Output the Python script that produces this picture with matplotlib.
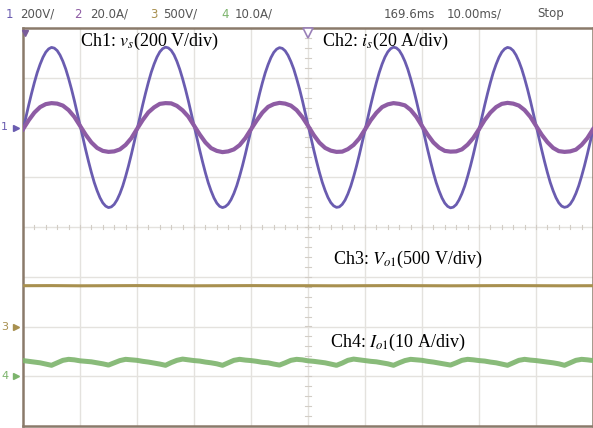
import numpy as np
import matplotlib
matplotlib.use("Agg")
import matplotlib.pyplot as plt

# time base: 10 ms/div, 10 divisions
t = np.arange(-50, 51, 1)        # 1 ms samples
t_fine = np.arange(-50, 50.5, 0.5)  # 0.5 ms samples
t3 = np.arange(-50, 51, 5)

# Ch1 grid voltage vs (V), 0.5 ms samples
vs = [-10, 40, 90, 137, 181, 221, 254, 282, 303, 316, 322, 319, 309, 291, 266, 235, 197, 155, 109, 60,
      10, -40, -90, -137, -181, -221, -254, -282, -303, -316, -322, -319, -309, -291, -266, -235, -197, -155, -109, -60,
      -9, 41, 91, 138, 182, 222, 255, 283, 304, 317, 323, 320, 310, 292, 266, 234, 196, 154, 108, 59,
      9, -41, -91, -138, -182, -222, -255, -283, -304, -317, -322, -318, -308, -290, -265, -234, -196, -154, -108, -59,
      -10, 40, 89, 136, 180, 220, 253, 281, 302, 315, 321, 318, 308, 290, 265, 235, 197, 156, 110, 61,
      11, -39, -89, -136, -180, -220, -253, -281, -302, -315, -321, -319, -309, -292, -267, -236, -198, -156, -110, -61,
      -11, 39, 90, 137, 181, 221, 255, 283, 304, 317, 323, 320, 310, 291, 266, 235, 197, 155, 109, 60,
      10, -40, -90, -137, -182, -222, -255, -283, -304, -317, -323, -320, -310, -291, -266, -235, -197, -155, -109, -60,
      -10, 40, 90, 137, 181, 221, 254, 282, 303, 316, 322, 319, 309, 291, 266, 235, 197, 155, 109, 60,
      10, -40, -90, -137, -181, -221, -254, -282, -303, -316, -321, -318, -308, -290, -265, -234, -196, -154, -108, -59,
      -10]

# Ch2 grid current is (A), 1 ms samples
i_s = [-0.7, 2.9, 6.0, 8.2, 9.4, 9.8, 9.6, 8.8, 7.0, 4.3, 0.7, -2.9, -6.0, -8.2, -9.4, -9.8, -9.6, -8.8, -7.0, -4.3,
       -0.6, 3.0, 6.1, 8.1, 9.5, 9.8, 9.7, 8.7, 6.9, 4.4, 0.8, -2.8, -6.0, -8.3, -9.4, -9.9, -9.6, -8.8, -7.1, -4.3,
       -0.7, 2.8, 6.0, 8.3, 9.4, 9.9, 9.6, 8.8, 7.0, 4.2, 0.7, -3.0, -6.1, -8.2, -9.3, -9.8, -9.7, -8.7, -7.0, -4.4,
       -0.8, 2.9, 5.9, 8.2, 9.3, 9.8, 9.5, 8.9, 7.1, 4.3, 0.6, -2.9, -6.0, -8.1, -9.4, -9.7, -9.6, -8.8, -6.9, -4.2,
       -0.7, 3.0, 6.0, 8.2, 9.5, 9.9, 9.6, 8.8, 7.0, 4.3, 0.7, -2.9, -5.9, -8.2, -9.5, -9.8, -9.6, -8.9, -7.0, -4.3,
       -0.7]

# Ch3 output voltage Vo1 (V), every 5 ms
vo1 = [410, 411, 409, 410, 411, 410, 409, 410, 411, 410, 410,
       409, 410, 411, 410, 409, 410, 411, 410, 409, 410]

# Ch4 output current Io1 (A), 1 ms samples
io1 = [3.15, 3.0, 2.85, 2.7, 2.45, 2.2, 2.7, 3.2, 3.4, 3.3,
       3.1, 3.0, 2.9, 2.7, 2.5, 2.25, 2.7, 3.15, 3.4, 3.3,
       3.2, 3.0, 2.85, 2.65, 2.45, 2.2, 2.75, 3.2, 3.45, 3.3,
       3.15, 3.05, 2.85, 2.7, 2.5, 2.2, 2.7, 3.2, 3.4, 3.25,
       3.15, 3.0, 2.8, 2.7, 2.45, 2.25, 2.7, 3.2, 3.4, 3.3,
       3.1, 3.0, 2.85, 2.7, 2.45, 2.2, 2.65, 3.2, 3.45, 3.3,
       3.15, 3.0, 2.9, 2.7, 2.5, 2.2, 2.7, 3.15, 3.4, 3.3,
       3.2, 3.0, 2.85, 2.65, 2.45, 2.25, 2.7, 3.2, 3.4, 3.3,
       3.15, 3.05, 2.85, 2.7, 2.45, 2.2, 2.7, 3.2, 3.4, 3.25,
       3.15, 3.0, 2.85, 2.7, 2.5, 2.2, 2.7, 3.2, 3.4, 3.3,
       3.15]

# channel settings: volts (amps) per div and ground offset in div
scales = {"1": 200, "2": 20.0, "3": 500, "4": 10.0}
offsets = {"1": 2.0, "2": 2.0, "3": -2.0, "4": -3.0}
colors = {"1": "#6a5cb0", "2": "#8e5ca4", "3": "#a8904f", "4": "#7cb46c"}

frame_col = "#8a7a6a"
grid_col = "#e4e2de"

plt.rcParams["mathtext.fontset"] = "stix"

fig = plt.figure(figsize=(5.93, 4.28), dpi=100)
ax = fig.add_axes([23 / 593, 2 / 428, 570 / 593, 398 / 428])
ax.set_xlim(-50, 50)
ax.set_ylim(-4, 4)

# graticule
for x in range(-40, 50, 10):
    ax.axvline(x, color=grid_col, lw=1.0, zorder=0)
for y in range(-3, 4):
    ax.axhline(y, color=grid_col, lw=1.0, zorder=0)
# minor ticks on the centre lines
for y in np.arange(-4, 4.01, 0.2):
    ax.plot([-0.6, 0.6], [y, y], color="#d2cdc6", lw=0.8, zorder=0)
for x in np.arange(-50, 50.01, 2):
    ax.plot([x, x], [-0.05, 0.05], color="#d2cdc6", lw=0.8, zorder=0)

for s in ax.spines.values():
    s.set_color(frame_col)
    s.set_linewidth(1.8)
ax.set_xticks([])
ax.set_yticks([])

# traces
ax.plot(t3, offsets["3"] + np.array(vo1) / scales["3"], color=colors["3"], lw=2.2, zorder=3)
ax.plot(t, offsets["4"] + np.array(io1) / scales["4"], color=colors["4"], lw=3.6, alpha=0.9, zorder=3)
ax.plot(t_fine, offsets["1"] + np.array(vs) / scales["1"], color=colors["1"], lw=2.0, zorder=3)
ax.plot(t, offsets["2"] + np.array(i_s) / scales["2"], color=colors["2"], lw=3.0, zorder=4)

# channel labels
serif = ["Liberation Serif", "DejaVu Serif"]
ax.text(-40.0, 3.72, r"Ch1: $v_s$(200 V/div)", family=serif, fontsize=13, va="center", zorder=5)
ax.text(2.5, 3.72, r"Ch2: $i_s$(20 A/div)", family=serif, fontsize=13, va="center", zorder=5)
ax.text(4.4, -0.66, r"Ch3: $V_{o\mathrm{1}}$(500 V/div)", family=serif, fontsize=13, va="center", zorder=5)
ax.text(3.9, -2.32, r"Ch4: $I_{o\mathrm{1}}$(10 A/div)", family=serif, fontsize=13, va="center", zorder=5)

# ground markers left of the screen (ch2 sits under ch1)
narrow = ["Liberation Sans Narrow", "DejaVu Sans"]
ytr = ax.get_yaxis_transform()
for ch in ["1", "3", "4"]:
    ax.text(-0.032, offsets[ch], ch, transform=ytr, color=colors[ch], fontsize=8,
            family=narrow, ha="center", va="center", clip_on=False)
    ax.plot([-0.012], [offsets[ch]], transform=ytr, marker=">", ms=5,
            color=colors[ch], clip_on=False, zorder=6)

# trigger and position markers on the top edge
ax.plot([-49.6], [3.9], marker="v", ms=5, color="#7a5c9a", clip_on=False, zorder=6)
ax.plot([0], [3.9], marker="v", ms=7, mfc="white", mec="#9a80b8", mew=1.2, clip_on=False, zorder=6)

# status bar
bar_y = 1 - 14 / 428
items = [(6, "1", colors["1"]), (20, "200V/", "#555555"),
         (74, "2", colors["2"]), (90, "20.0A/", "#555555"),
         (150, "3", colors["3"]), (163, "500V/", "#555555"),
         (221, "4", colors["4"]), (235, "10.0A/", "#555555"),
         (384, "169.6ms", "#555555"), (447, "10.00ms/", "#555555"),
         (537, "Stop", "#555555")]
for x, s, c in items:
    fig.text(x / 593, bar_y, s, color=c, fontsize=8.5, family=narrow, va="center")

fig.savefig("out.png", dpi=100)
